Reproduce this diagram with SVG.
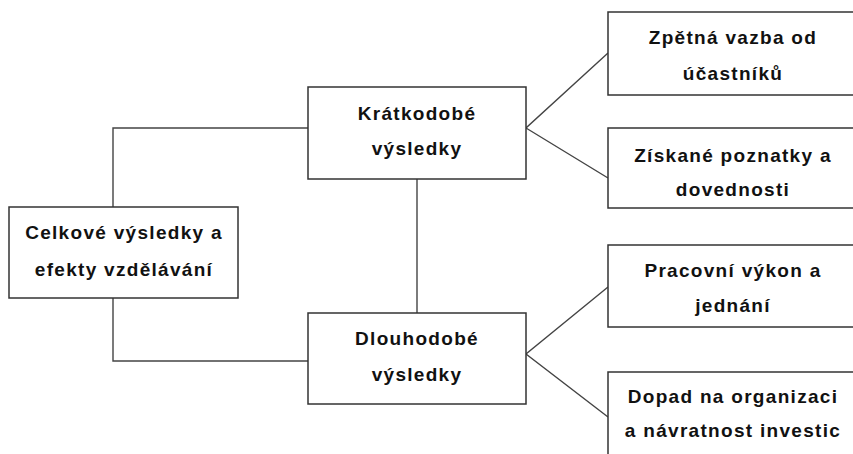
<svg xmlns="http://www.w3.org/2000/svg" width="853" height="454" viewBox="0 0 853 454">
<style>
.box{fill:#fff;stroke:#333;stroke-width:1.5}
.ln{fill:none;stroke:#444;stroke-width:1.4}
text{font-family:"Liberation Sans",Arial,sans-serif;font-weight:bold;font-size:19px;letter-spacing:1.3px;fill:#111;text-anchor:middle}
</style>
<rect width="853" height="454" fill="#fff"/>
<g id="connectors">
<polyline class="ln" points="308,128 113,128 113,207"/>
<polyline class="ln" points="113,298 113,361 308,361"/>
<line class="ln" x1="417" y1="179" x2="417" y2="313"/>
<polyline class="ln" points="608,53 526,128 608,178"/>
<polyline class="ln" points="608,287 526,354 608,417"/>
</g>
<g id="celkove">
<rect class="box" x="9" y="207" width="229" height="91"/>
<text x="124" y="239">Celkové výsledky a</text>
<text x="124" y="276">efekty vzdělávání</text>
</g>
<g id="kratkodobe">
<rect class="box" x="308" y="87" width="218" height="92"/>
<text x="417" y="120">Krátkodobé</text>
<text x="417" y="155">výsledky</text>
</g>
<g id="dlouhodobe">
<rect class="box" x="308" y="313" width="218" height="91"/>
<text x="417" y="345">Dlouhodobé</text>
<text x="417" y="381">výsledky</text>
</g>
<g id="zpetna">
<rect class="box" x="608" y="12" width="252" height="83"/>
<text x="733" y="44">Zpětná vazba od</text>
<text x="733" y="80">účastníků</text>
</g>
<g id="ziskane">
<rect class="box" x="608" y="128" width="252" height="80"/>
<text x="733" y="162">Získané poznatky a</text>
<text x="733" y="196">dovednosti</text>
</g>
<g id="pracovni">
<rect class="box" x="608" y="245" width="252" height="82"/>
<text x="733" y="277">Pracovní výkon a</text>
<text x="733" y="312">jednání</text>
</g>
<g id="dopad">
<rect class="box" x="608" y="372" width="252" height="90"/>
<text x="733" y="403">Dopad na organizaci</text>
<text x="733" y="437">a návratnost investic</text>
</g>
</svg>
